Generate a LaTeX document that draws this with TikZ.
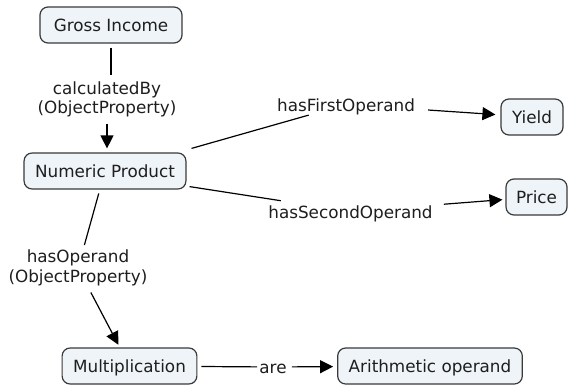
\documentclass[tikz,border=0pt]{standalone}
\usepackage{fontspec}
\setmainfont{DejaVu Sans}
\usetikzlibrary{arrows.meta}
\definecolor{conceptfill}{HTML}{EEF4F7}
\definecolor{conceptborder}{HTML}{3A3A3A}
\definecolor{txt}{HTML}{1E1E1E}
\begin{document}
\begin{tikzpicture}[x=1pt,y=-1pt,
  concept/.style={draw=conceptborder, fill=conceptfill, line width=1.2pt, rounded corners=8pt,
    minimum height=36pt, inner xsep=11pt, inner ysep=0pt, text height=13.5pt, text depth=0pt,
    font=\fontsize{16.8}{19.5}\selectfont, text=txt},
  lbl/.style={inner xsep=2pt, inner ysep=2pt, font=\fontsize{16.8}{19.5}\selectfont, text=txt, align=center},
  lblone/.style={lbl, text height=13.5pt, text depth=0pt},
  link/.style={line width=1.2pt, draw=black},
  arr/.style={link, -{Triangle[length=13pt,width=13pt]}}]
\fill[white] (0,0) rectangle (569,385);
\useasboundingbox (0,0) rectangle (569,385);

% concepts
\node[concept, minimum width=142pt] (gi) at (111,25) {Gross Income};
\node[concept] (np) at (105,171) {Numeric Product};
\node[concept] (yield) at (532,117) {Yield};
\node[concept, inner xsep=10pt] (price) at (536.5,197) {Price};
\node[concept] (mult) at (129.5,366) {Multiplication};
\node[concept] (arith) at (430,366) {Arithmetic operand};

% link labels
\node[lbl] (calc) at (107,99.5) {calculatedBy\\(ObjectProperty)};
\node[lblone] (first) at (346,104.5) {hasFirstOperand};
\node[lblone] (second) at (350.5,211.5) {hasSecondOperand};
\node[lbl] (hasop) at (78,268) {hasOperand\\(ObjectProperty)};
\node[lblone] (are) at (273,367) {are};

% connectors
\draw[link, shorten <=4pt, shorten >=4pt] (gi.south) -- (gi.south |- calc.north);
\draw[arr, shorten <=4pt, shorten >=4pt] (calc.south) -- (calc.south |- np.north);
\draw[link, shorten >=6pt] ([xshift=5pt,yshift=4pt]np.north east) -- (first);
\draw[arr, shorten <=11pt, shorten >=5pt] (first) -- (yield);
\draw[link, shorten >=12pt] ([xshift=3pt,yshift=3pt]np.south east) -- (second);
\draw[arr, shorten <=9pt, shorten >=3pt] (second) -- (price);
\draw[link, shorten <=4pt, shorten >=3pt] (np) -- (hasop);
\draw[arr, shorten <=5pt, shorten >=3pt] (hasop) -- (mult);
\draw[link, shorten <=4pt] (mult) -- (are);
\draw[arr, shorten <=3pt, shorten >=4pt] (are) -- (arith);
\end{tikzpicture}
\end{document}
